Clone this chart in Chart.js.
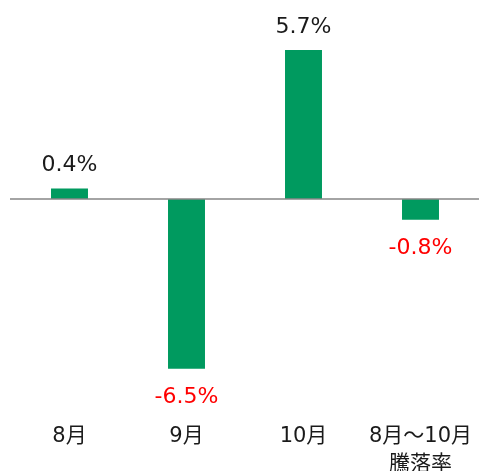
<!DOCTYPE html>
<html><head><meta charset="utf-8">
<script src="https://cdn.jsdelivr.net/npm/chart.js@4"></script>
<style>html,body{margin:0;padding:0;background:#fff}#w{width:479px;height:471px}</style>
</head><body><div id="w"><canvas id="c"></canvas></div>
<script>
const categories = [["8月"], ["9月"], ["10月"], ["8月～10月", "騰落率"]];
const values = [0.4, -6.5, 5.7, -0.8];
const valueLabels = ["0.4%", "-6.5%", "5.7%", "-0.8%"];
const FONT = "'DejaVu Sans', 'Noto Sans CJK JP', sans-serif";

const overlay = {
  id: 'overlay',
  afterDatasetsDraw(chart) {
    const ctx = chart.ctx, y = chart.scales.y, area = chart.chartArea;
    const y0 = y.getPixelForValue(0);
    ctx.save();
    ctx.strokeStyle = '#868686';
    ctx.lineWidth = 1.5;
    ctx.beginPath();
    ctx.moveTo(area.left - 1, y0);
    ctx.lineTo(chart.width, y0);
    ctx.stroke();
    const meta = chart.getDatasetMeta(0);
    ctx.font = '22px ' + FONT;
    ctx.textAlign = 'center';
    ctx.textBaseline = 'alphabetic';
    meta.data.forEach((bar, i) => {
      const v = values[i];
      const py = y.getPixelForValue(v);
      if (v >= 0) {
        ctx.fillStyle = '#1a1a1a';
        ctx.fillText(valueLabels[i], bar.x, py - 17);
      } else {
        ctx.fillStyle = '#ff0000';
        ctx.fillText(valueLabels[i], bar.x, py + 34);
      }
    });
    ctx.restore();
  }
};

new Chart(document.getElementById('c'), {
  type: 'bar',
  data: {
    labels: categories,
    datasets: [{
      data: values,
      backgroundColor: '#009a5f',
      borderWidth: 0,
      barPercentage: 0.316,
      categoryPercentage: 1
    }]
  },
  options: {
    responsive: true,
    maintainAspectRatio: false,
    animation: false,
    events: [],
    layout: { padding: { top: 16, left: 11, right: 0, bottom: 0 } },
    plugins: { legend: { display: false }, tooltip: { enabled: false } },
    scales: {
      x: {
        grid: { display: false },
        border: { display: false },
        ticks: {
          color: '#1a1a1a',
          padding: 7,
          maxRotation: 0,
          autoSkip: false,
          font: { family: FONT, size: 21, lineHeight: 1.33 }
        },
        afterFit(scale) { scale.height = 63; scale.paddingLeft = 0; scale.paddingRight = 0; }
      },
      y: {
        display: false,
        min: -8,
        max: 7
      }
    }
  },
  plugins: [overlay]
});
</script>
</body></html>
